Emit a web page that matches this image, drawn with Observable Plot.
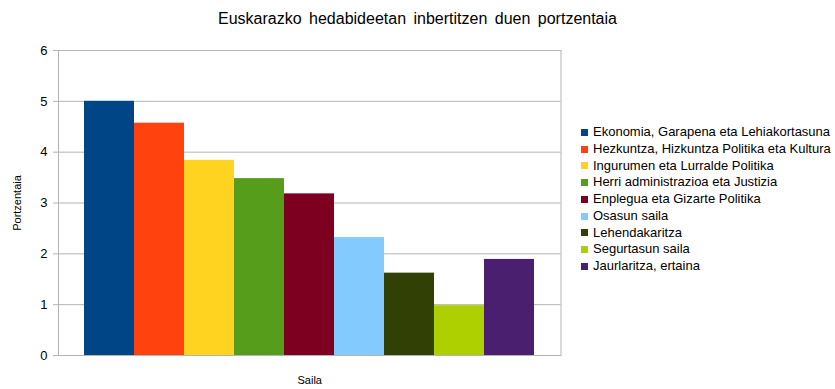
<!DOCTYPE html>
<html>
<head>
<meta charset="utf-8">
<script src="https://cdn.jsdelivr.net/npm/d3@7"></script>
<script src="https://cdn.jsdelivr.net/npm/@observablehq/plot@0.6"></script>
<style>
  html, body { margin: 0; padding: 0; background: #fff; }
  #wrap { position: relative; width: 835px; height: 389px; font-family: "Liberation Sans", Arial, sans-serif; color: #000; }
  #title { position: absolute; left: 0; width: 835px; top: 10px; text-align: center; font-size: 16px; word-spacing: 3px; }
  #chart { position: absolute; left: 0; top: 0; }
  #legend { position: absolute; left: 581px; top: 124px; font-size: 13px; }
  .row { height: 16.75px; line-height: 16.75px; white-space: nowrap; display: flex; align-items: center; }
  .sw { width: 7px; height: 7px; margin-right: 5px; flex: none; }
</style>
</head>
<body>
<div id="wrap">
  <div id="chart"></div>
  <div id="title"></div>
  <div id="legend"></div>
</div>
<script>
const titleText = "Euskarazko hedabideetan inbertitzen duen portzentaia";
const categoryLabel = "Saila";
const yLabel = "Portzentaia";
const series = [
  "Ekonomia, Garapena eta Lehiakortasuna",
  "Hezkuntza, Hizkuntza Politika eta Kultura",
  "Ingurumen eta Lurralde Politika",
  "Herri administrazioa eta Justizia",
  "Enplegua eta Gizarte Politika",
  "Osasun saila",
  "Lehendakaritza",
  "Segurtasun saila",
  "Jaurlaritza, ertaina"
];
const values = [5.0, 4.57, 3.84, 3.48, 3.18, 2.32, 1.62, 0.98, 1.89];
const colors = ["#004586", "#ff420e", "#ffd320", "#579d1c", "#7e0021", "#83caff", "#314004", "#aecf00", "#4b1f6f"];
const yTicks = [0, 1, 2, 3, 4, 5, 6];

const data = series.map((s, i) => ({ series: s, value: values[i] }));

document.getElementById("title").textContent = titleText;

const plot = Plot.plot({
  width: 835,
  height: 389,
  marginTop: 50,
  marginLeft: 58,
  marginRight: 274.5,
  marginBottom: 34,
  style: { fontFamily: "Liberation Sans, Arial, sans-serif", background: "#fff" },
  x: { type: "band", domain: series, paddingInner: 0, paddingOuter: 0.49, axis: null },
  y: { domain: [0, 6], axis: null },
  color: { domain: series, range: colors },
  marks: [
    Plot.ruleY(yTicks, { stroke: "#b3b3b3", strokeWidth: 1 }),
    Plot.barY(data, { x: "series", y: "value", fill: "series" }),
    Plot.frame({ stroke: "#b3b3b3" }),
    Plot.axisY({ ticks: yTicks, tickSize: 5, tickPadding: 6, fontSize: 13, stroke: "#b3b3b3", color: "#000", label: null, tickFormat: d3.format("d") }),
    Plot.axisY({ ticks: [], label: yLabel, labelAnchor: "center", labelOffset: 45, labelArrow: "none", fontSize: 11 }),
    Plot.axisX({ ticks: [], label: categoryLabel, labelAnchor: "center", labelOffset: 28, labelArrow: "none", fontSize: 11, dx: -9 })
  ]
});
document.getElementById("chart").appendChild(plot);

const legend = document.getElementById("legend");
series.forEach((s, i) => {
  const row = document.createElement("div");
  row.className = "row";
  const sw = document.createElement("span");
  sw.className = "sw";
  sw.style.background = colors[i];
  const t = document.createElement("span");
  t.textContent = s;
  row.appendChild(sw);
  row.appendChild(t);
  legend.appendChild(row);
});
</script>
</body>
</html>
